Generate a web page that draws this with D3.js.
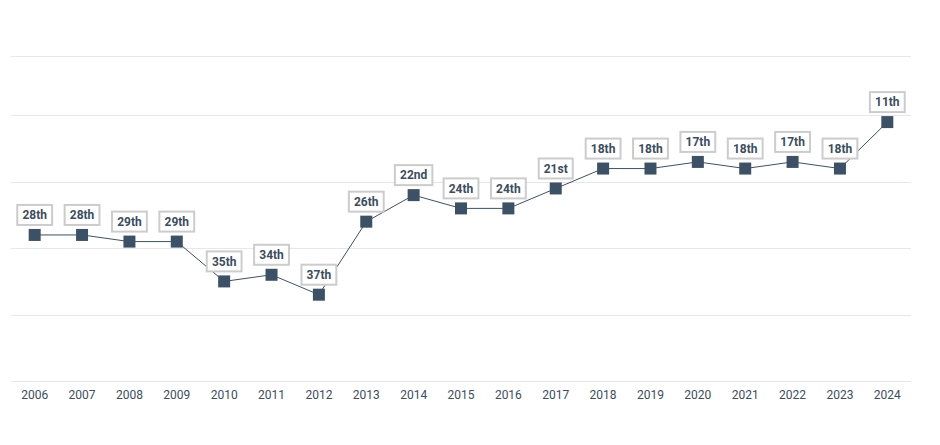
<!DOCTYPE html>
<html>
<head>
<meta charset="utf-8">
<script src="https://cdn.jsdelivr.net/npm/d3@7/dist/d3.min.js"></script>
<style>
  html, body { margin: 0; padding: 0; background: #fff; }
  svg { display: block; font-family: Roboto, "Noto Sans", sans-serif; }
</style>
</head>
<body>
<svg id="chart" width="940" height="445"></svg>
<script>
const years = ["2006","2007","2008","2009","2010","2011","2012","2013","2014","2015","2016","2017","2018","2019","2020","2021","2022","2023","2024"];
const ranks = [28, 28, 29, 29, 35, 34, 37, 26, 22, 24, 24, 21, 18, 18, 17, 18, 17, 18, 11];
const rankLabels = ["28th","28th","29th","29th","35th","34th","37th","26th","22nd","24th","24th","21st","18th","18th","17th","18th","17th","18th","11th"];
const gridTicks = [1, 10, 20, 30, 40, 50];

const svg = d3.select("#chart");
const plotLeft = 11, plotRight = 911, plotTop = 55.7, plotBottom = 381;

const x = d3.scaleBand().domain(years).range([plotLeft, plotRight]).padding(0);
const y = d3.scaleLinear().domain([1, 50]).range([plotTop, plotBottom]);

// gridlines
svg.append("g").selectAll("line").data(gridTicks).join("line")
  .attr("x1", plotLeft).attr("x2", plotRight)
  .attr("y1", d => Math.round(y(d)) + 0.5).attr("y2", d => Math.round(y(d)) + 0.5)
  .attr("stroke", "#e6e6ef").attr("stroke-width", 1);

// x axis
const xAxis = svg.append("g")
  .attr("transform", `translate(0,${plotBottom})`)
  .call(d3.axisBottom(x).tickSize(0).tickPadding(9));
xAxis.select(".domain").remove();
xAxis.selectAll("text")
  .attr("fill", "#3b4d5e")
  .style("font-size", "12px")
  .style("font-family", "Roboto, sans-serif");

const data = years.map((yr, i) => ({ year: yr, rank: ranks[i], label: rankLabels[i] }));
const cx = d => x(d.year) + x.bandwidth() / 2;

// line
svg.append("path")
  .datum(data)
  .attr("fill", "none")
  .attr("stroke", "#3d5166")
  .attr("stroke-width", 1)
  .attr("d", d3.line().x(cx).y(d => y(d.rank)));

// markers
const ms = 12;
svg.append("g").selectAll("rect").data(data).join("rect")
  .attr("x", d => cx(d) - ms / 2)
  .attr("y", d => y(d.rank) - ms / 2)
  .attr("width", ms).attr("height", ms)
  .attr("fill", "#3d5166");

// labels
const lg = svg.append("g").selectAll("g").data(data).join("g")
  .attr("transform", d => `translate(${cx(d)},${y(d.rank) - 20})`);
lg.append("text")
  .attr("text-anchor", "middle")
  .attr("dy", "0.35em")
  .attr("fill", "#3b4d5e")
  .style("font-size", "12px")
  .style("font-weight", "bold")
  .text(d => d.label);
lg.each(function() {
  const g = d3.select(this);
  const bb = g.select("text").node().getBBox();
  const w = bb.width + 10, h = 20;
  g.insert("rect", "text")
    .attr("x", -w / 2).attr("y", -h / 2)
    .attr("width", w).attr("height", h)
    .attr("fill", "#fff")
    .attr("stroke", "#cccccc")
    .attr("stroke-width", 2);
});
</script>
</body>
</html>
